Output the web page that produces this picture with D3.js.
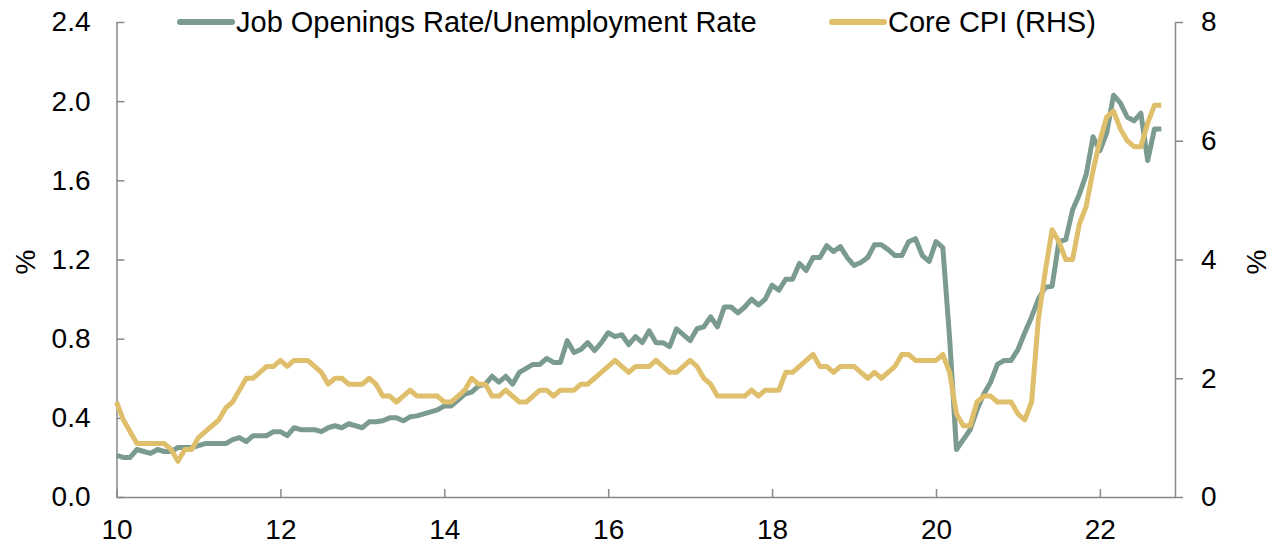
<!DOCTYPE html>
<html>
<head>
<meta charset="utf-8">
<script src="https://cdn.jsdelivr.net/npm/d3@7"></script>
<style>
  body { margin: 0; background: #fff; }
  svg text { font-family: "Liberation Sans", Arial, sans-serif; fill: #000; }
</style>
</head>
<body>
<svg id="chart" width="1271" height="544"></svg>
<script>
// monthly, Jan 2010 onwards (index 0 = Jan 2010)
var jobRatio = [
  0.21,0.20,0.20,0.24,0.23,0.22,0.24,0.23,0.23,0.25,0.25,0.25,
  0.26,0.27,0.27,0.27,0.27,0.29,0.30,0.28,0.31,0.31,0.31,0.33,
  0.33,0.31,0.35,0.34,0.34,0.34,0.33,0.35,0.36,0.35,0.37,0.36,
  0.35,0.38,0.38,0.385,0.40,0.40,0.385,0.405,0.41,0.42,0.43,0.44,
  0.46,0.46,0.49,0.52,0.53,0.56,0.57,0.61,0.58,0.61,0.57,0.63,
  0.65,0.67,0.67,0.70,0.68,0.68,0.79,0.73,0.745,0.78,0.74,0.78,
  0.83,0.81,0.82,0.77,0.81,0.78,0.84,0.78,0.78,0.76,0.85,0.82,
  0.79,0.85,0.86,0.91,0.86,0.96,0.96,0.93,0.96,1.00,0.97,1.00,
  1.07,1.045,1.10,1.10,1.18,1.145,1.21,1.21,1.27,1.24,1.265,1.21,
  1.17,1.185,1.21,1.275,1.275,1.25,1.22,1.22,1.29,1.305,1.22,1.19,
  1.29,1.26,0.80,0.24,0.29,0.34,0.44,0.52,0.58,0.67,0.69,0.69,
  0.745,0.83,0.91,1.00,1.06,1.065,1.29,1.30,1.45,1.53,1.63,1.82,
  1.75,1.84,2.03,1.99,1.92,1.90,1.94,1.70,1.86,1.86
];
var coreCpi = [
  1.6,1.3,1.1,0.9,0.9,0.9,0.9,0.9,0.8,0.6,0.8,0.8,
  1.0,1.1,1.2,1.3,1.5,1.6,1.8,2.0,2.0,2.1,2.2,2.2,
  2.3,2.2,2.3,2.3,2.3,2.2,2.1,1.9,2.0,2.0,1.9,1.9,
  1.9,2.0,1.9,1.7,1.7,1.6,1.7,1.8,1.7,1.7,1.7,1.7,
  1.6,1.6,1.7,1.8,2.0,1.9,1.9,1.7,1.7,1.8,1.7,1.6,
  1.6,1.7,1.8,1.8,1.7,1.8,1.8,1.8,1.9,1.9,2.0,2.1,
  2.2,2.3,2.2,2.1,2.2,2.2,2.2,2.3,2.2,2.1,2.1,2.2,
  2.3,2.2,2.0,1.9,1.7,1.7,1.7,1.7,1.7,1.8,1.7,1.8,
  1.8,1.8,2.1,2.1,2.2,2.3,2.4,2.2,2.2,2.1,2.2,2.2,
  2.2,2.1,2.0,2.1,2.0,2.1,2.2,2.4,2.4,2.3,2.3,2.3,
  2.3,2.4,2.1,1.4,1.2,1.2,1.6,1.7,1.7,1.6,1.6,1.6,
  1.4,1.3,1.6,3.0,3.8,4.5,4.3,4.0,4.0,4.6,4.9,5.5,
  6.0,6.4,6.5,6.2,6.0,5.9,5.9,6.3,6.6,6.6
];
var leftTicks = [0, 0.4, 0.8, 1.2, 1.6, 2.0, 2.4];
var rightTicks = [0, 2, 4, 6, 8];
var yearTicks = [0, 24, 48, 72, 96, 120, 144];
var yearLabels = ["10", "12", "14", "16", "18", "20", "22"];
var seriesNames = ["Job Openings Rate/Unemployment Rate", "Core CPI (RHS)"];

var green = "#7b9b8e", yellow = "#dfbf6b", axisGrey = "#898989";

var svg = d3.select("#chart");
var plotLeft = 116.5, plotRight = 1175, plotTop = 22, plotBottom = 497;

var xScale = d3.scaleLinear().domain([0, 155]).range([plotLeft, plotRight]);
var yLeft = d3.scaleLinear().domain([0, 2.4]).range([plotBottom, plotTop]);
var yRight = d3.scaleLinear().domain([0, 8]).range([plotBottom, plotTop]);

function styleAxis(g) {
  g.selectAll("path,line").attr("stroke", axisGrey).attr("stroke-width", 1.5);
  g.selectAll("text").style("font-size", "28px").attr("fill", "#000");
}

svg.append("g")
  .attr("transform", "translate(0," + plotBottom + ")")
  .call(d3.axisBottom(xScale).tickValues(yearTicks)
    .tickFormat(function(d, i){ return yearLabels[i]; })
    .tickSizeInner(-8).tickSizeOuter(0).tickPadding(22))
  .call(styleAxis);

svg.append("g")
  .attr("transform", "translate(" + plotLeft + ",0)")
  .call(d3.axisLeft(yLeft).tickValues(leftTicks).tickFormat(d3.format(".1f"))
    .tickSizeInner(-8).tickSizeOuter(0).tickPadding(26))
  .call(styleAxis);

svg.append("g")
  .attr("transform", "translate(" + plotRight + ",0)")
  .call(d3.axisRight(yRight).tickValues(rightTicks).tickFormat(d3.format("d"))
    .tickSizeInner(8).tickSizeOuter(0).tickPadding(18))
  .call(styleAxis);

// axis titles
svg.append("text").attr("transform", "translate(35,262) rotate(-90)")
  .attr("text-anchor", "middle").style("font-size", "28px").text("%");
svg.append("text").attr("transform", "translate(1266,262) rotate(-90)")
  .attr("text-anchor", "middle").style("font-size", "28px").text("%");

var lineLeft = d3.line().x(function(d, i){ return xScale(i); }).y(function(d){ return yLeft(d); });
var lineRight = d3.line().x(function(d, i){ return xScale(i); }).y(function(d){ return yRight(d); });

svg.append("path").datum(jobRatio)
  .attr("d", lineLeft).attr("fill", "none").attr("stroke", green)
  .attr("stroke-width", 5).attr("stroke-linejoin", "round");

svg.append("path").datum(coreCpi)
  .attr("d", lineRight).attr("fill", "none").attr("stroke", yellow)
  .attr("stroke-width", 5).attr("stroke-linejoin", "round");

// legend
var legend = svg.append("g");
var legItems = [
  {name: seriesNames[0], colour: green, x: 180},
  {name: seriesNames[1], colour: yellow, x: 832}
];
legItems.forEach(function(d){
  legend.append("line").attr("x1", d.x).attr("x2", d.x + 52)
    .attr("y1", 22).attr("y2", 22)
    .attr("stroke", d.colour).attr("stroke-width", 6).attr("stroke-linecap", "round");
  legend.append("text").attr("x", d.x + 56).attr("y", 22).attr("dy", "0.35em")
    .style("font-size", "29px").text(d.name);
});
</script>
</body>
</html>
